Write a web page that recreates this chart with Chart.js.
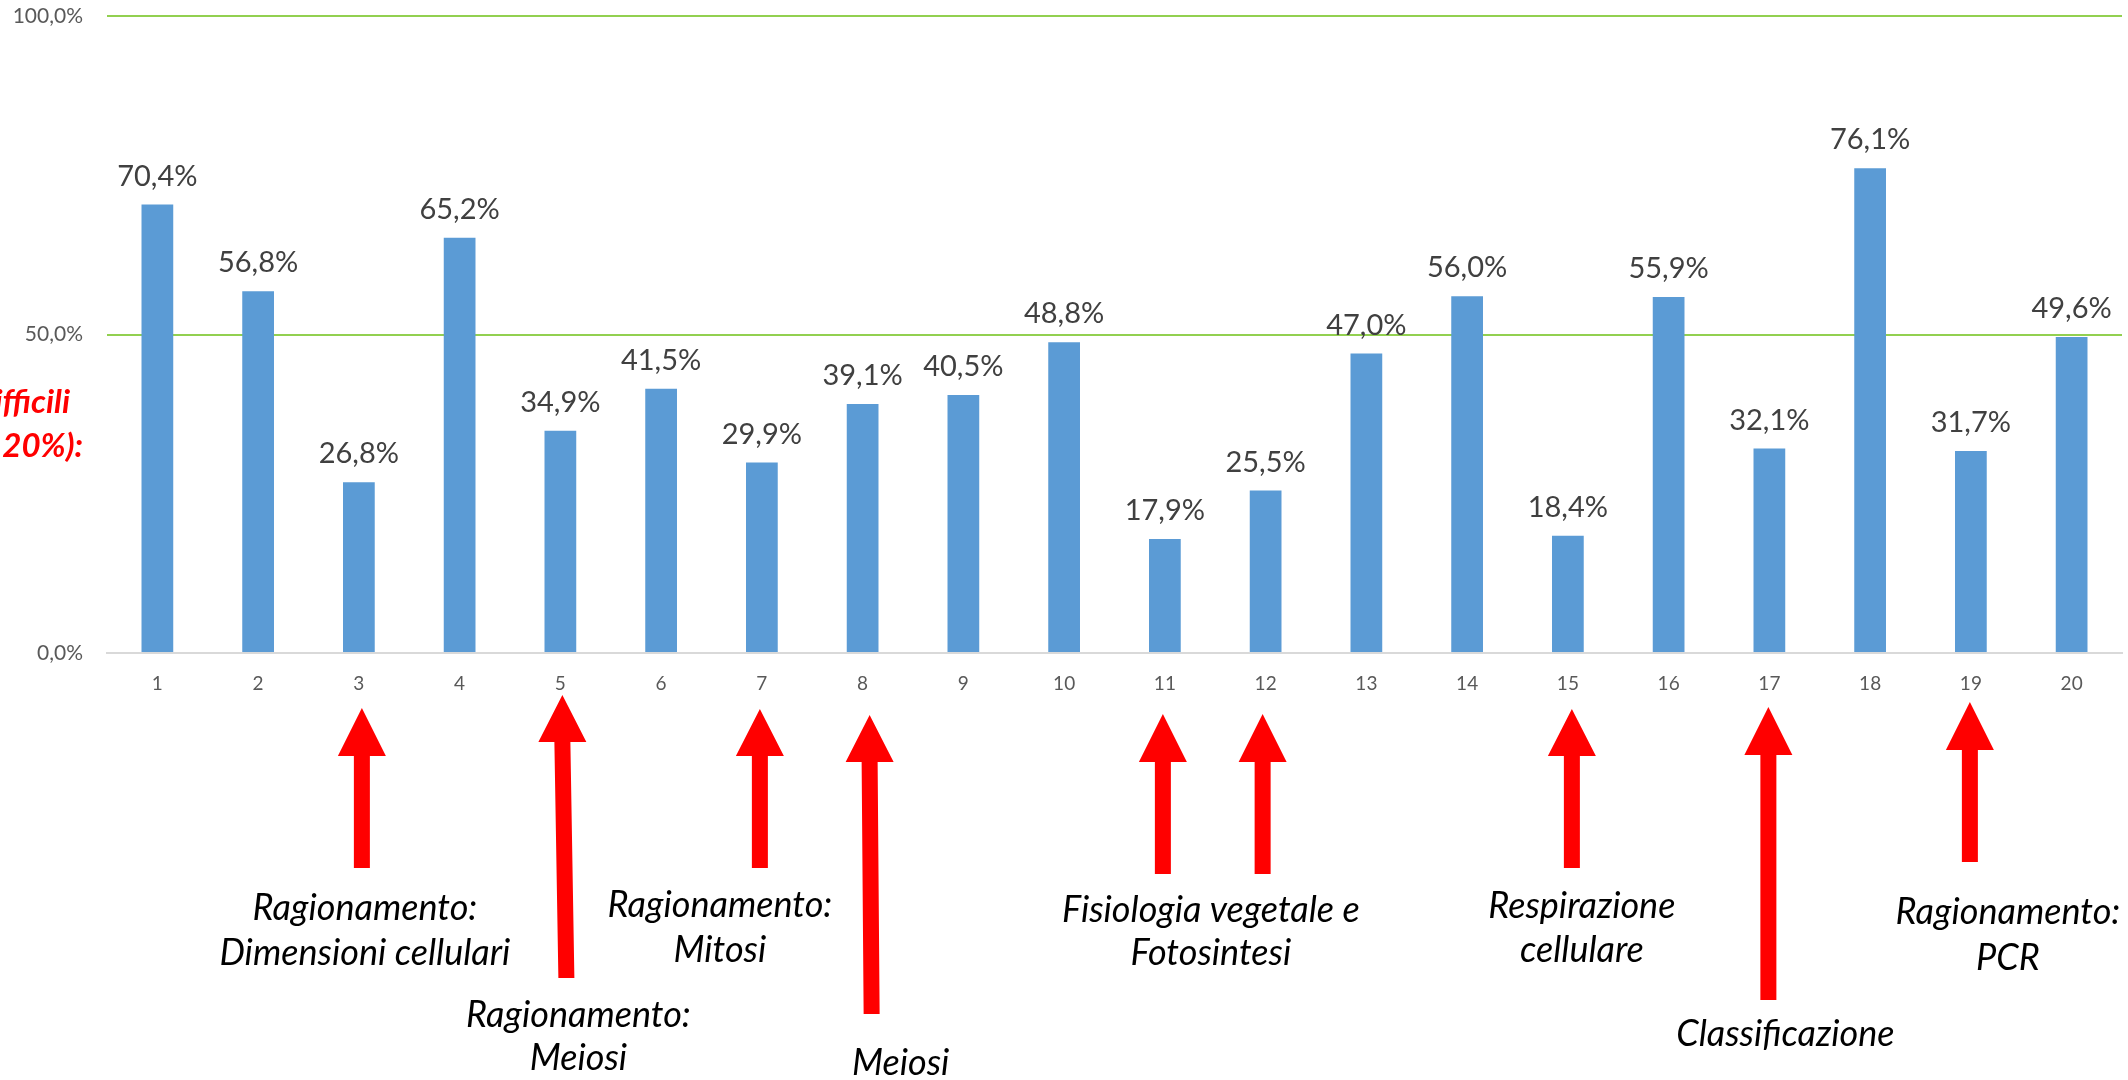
<!DOCTYPE html>
<html>
<head>
<meta charset="utf-8">
<script src="https://cdn.jsdelivr.net/npm/chart.js@4.4.1/dist/chart.umd.min.js"></script>
<style>
html,body{margin:0;padding:0;background:#fff;overflow:hidden;}
canvas{display:block;}
</style>
</head>
<body>
<canvas id="c" width="2128" height="1080"></canvas>
<script>
// ---- data ----
const categories = ['1','2','3','4','5','6','7','8','9','10','11','12','13','14','15','16','17','18','19','20'];
const values = [70.4, 56.8, 26.8, 65.2, 34.9, 41.5, 29.9, 39.1, 40.5, 48.8, 17.9, 25.5, 47.0, 56.0, 18.4, 55.9, 32.1, 76.1, 31.7, 49.6];
const yTicks = [0, 50, 100];
const sideNoteLines = ['difficili', '(< 20%):'];
const noteCategories = ['3', '5', '7', '8', '11', '12', '15', '17', '19'];
const noteTexts = [
  ['Ragionamento:', 'Dimensioni cellulari'],
  ['Ragionamento:', 'Meiosi'],
  ['Ragionamento:', 'Mitosi'],
  ['Meiosi'],
  ['Fisiologia vegetale e', 'Fotosintesi'],
  [],
  ['Respirazione', 'cellulare'],
  ['Classificazione'],
  ['Ragionamento:', 'PCR']
];

// ---- annotation geometry (pixels, layout only) ----
const arrowGeom = [
  {dx: 3,  tip: 708, head: 756, bottom: 868, tailDx: 3},
  {dx: 2,  tip: 695, head: 742, bottom: 978, tailDx: 6},
  {dx: -2, tip: 709, head: 756, bottom: 868, tailDx: -2},
  {dx: 7,  tip: 715, head: 762, bottom: 1014, tailDx: 9},
  {dx: -2, tip: 714, head: 762, bottom: 874, tailDx: -2},
  {dx: -3, tip: 714, head: 762, bottom: 874, tailDx: -3},
  {dx: 4,  tip: 709, head: 756, bottom: 868, tailDx: 4},
  {dx: -1, tip: 707, head: 755, bottom: 1000, tailDx: -1},
  {dx: -1, tip: 702, head: 750, bottom: 862, tailDx: -1}
];
const textGeom = [
  {dx: 6,   baselines: [920, 965]},
  {dx: 18,  baselines: [1027, 1070]},
  {dx: -42, baselines: [917, 962]},
  {dx: 38,  baselines: [1075]},
  {dx: 46,  baselines: [922, 965]},
  {dx: 0,   baselines: []},
  {dx: 14,  baselines: [918, 962]},
  {dx: 16,  baselines: [1046]},
  {dx: 37,  baselines: [924, 970]}
];

const FONT = 'Lato, "Open Sans", sans-serif';
const fmt = v => v.toFixed(1).replace('.', ',') + '%';

const overlay = {
  id: 'overlay',
  afterDatasetsDraw(chart) {
    const ctx = chart.ctx;
    const meta = chart.getDatasetMeta(0);
    ctx.save();
    // data labels
    ctx.font = '29px ' + FONT;
    ctx.fillStyle = '#404040';
    ctx.textAlign = 'center';
    ctx.textBaseline = 'alphabetic';
    meta.data.forEach((bar, i) => {
      ctx.fillText(fmt(values[i]), bar.x, bar.y - 19);
    });
    // arrows and notes
    const xs = chart.scales.x;
    noteCategories.forEach((cat, i) => {
      const cx = xs.getPixelForValue(categories.indexOf(cat));
      const g = arrowGeom[i];
      const tx = cx + g.dx, bx = cx + g.tailDx;
      const hw = 24, sw = 8;
      ctx.fillStyle = '#FF0000';
      ctx.beginPath();
      ctx.moveTo(tx, g.tip);
      ctx.lineTo(tx + hw, g.head);
      ctx.lineTo(tx + sw, g.head);
      ctx.lineTo(bx + sw, g.bottom);
      ctx.lineTo(bx - sw, g.bottom);
      ctx.lineTo(tx - sw, g.head);
      ctx.lineTo(tx - hw, g.head);
      ctx.closePath();
      ctx.fill();
      const t = textGeom[i];
      ctx.fillStyle = '#000000';
      ctx.font = 'italic 36px ' + FONT;
      ctx.textAlign = 'center';
      noteTexts[i].forEach((line, k) => {
        ctx.fillText(line, cx + t.dx, t.baselines[k]);
      });
    });
    // side note (partially outside the canvas on the left)
    ctx.fillStyle = '#FF0000';
    ctx.font = 'italic bold 33px ' + FONT;
    ctx.textAlign = 'right';
    ctx.fillText(sideNoteLines[0], 70, 413);
    ctx.fillText(sideNoteLines[1], 83, 457);
    ctx.restore();
  }
};

new Chart(document.getElementById('c'), {
  type: 'bar',
  data: {
    labels: categories,
    datasets: [{
      data: values,
      backgroundColor: '#5B9BD5',
      borderWidth: 0,
      categoryPercentage: 1.0,
      barPercentage: 0.315
    }]
  },
  options: {
    responsive: false,
    animation: false,
    devicePixelRatio: 1,
    layout: {padding: {top: 16, right: 6, left: 0, bottom: 0}},
    plugins: {legend: {display: false}, tooltip: {enabled: false}},
    scales: {
      x: {
        grid: {display: false, drawTicks: false},
        border: {display: true, color: '#D9D9D9', width: 2},
        ticks: {color: '#595959', font: {family: FONT, size: 19}, padding: 19, maxRotation: 0},
        afterFit(s) { s.height = 427; s.paddingLeft = 0; s.paddingRight = 0; }
      },
      y: {
        min: 0, max: 100,
        afterBuildTicks(s) { s.ticks = yTicks.map(v => ({value: v})); },
        grid: {
          drawTicks: false,
          color: c => (c.tick && c.tick.value === 0) ? 'rgba(0,0,0,0)' : '#92D050',
          lineWidth: 2
        },
        border: {display: false},
        ticks: {color: '#595959', font: {family: FONT, size: 21}, padding: 24, callback: v => fmt(v)},
        afterFit(s) { s.width = 107; s.paddingTop = 0; s.paddingBottom = 0; }
      }
    }
  },
  plugins: [overlay]
});
</script>
</body>
</html>
